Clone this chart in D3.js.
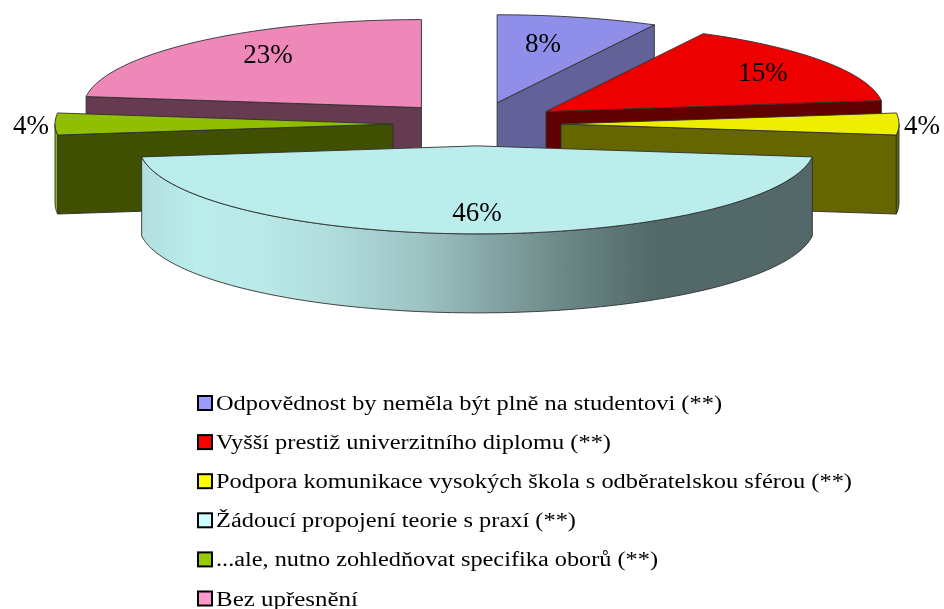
<!DOCTYPE html>
<html><head><meta charset="utf-8">
<script src="https://cdn.jsdelivr.net/npm/d3@7"></script>
<style>html,body{margin:0;padding:0;background:#fff}svg{display:block}text{font-family:"Liberation Serif",serif;fill:#000}</style>
</head><body><svg id="c" width="944" height="609"></svg>
<script>
const categories = [
  "Odpovědnost by neměla být plně na studentovi (**)",
  "Vyšší prestiž univerzitního diplomu (**)",
  "Podpora komunikace vysokých škola s odběratelskou sférou (**)",
  "Žádoucí propojení teorie s praxí (**)",
  "...ale, nutno zohledňovat specifika oborů (**)",
  "Bez upřesnění"
];
const values = [7.7, 15.3, 4, 46, 4, 23];
const valueLabels = ["8%", "15%", "4%", "46%", "4%", "23%"];
const topColors = ["#8f8fea", "#ed0000", "#eeee00", "#bbeded", "#8fbf00", "#ee88b8"];
const sideColors = ["#626298", "#600000", "#666600", "url(#rim)", "#3f4f00", "#663a50"];
const rimColors = ["#626298", "#600000", "#666600", "url(#rim)", "#8fb800", "#663a50"];
const legendColors = ["#9999ff", "#ff0000", "#ffff00", "#ccffff", "#99cc00", "#ff99cc"];
// label anchor relative to each slice's apex, in units of the pie radii
const labelFx = [0.136, 0.642, 1.068, 0, -1.071, -0.454];
const labelFy = [-0.69, -0.455, 0.0, 0.74, 0.0, -0.614];
const legendWidths = [506, 395, 636, 360, 442, 142];
const drawOrder = [0, 5, 1, 4, 2, 3];

const explode = 84 / 338, depth = 79;
const x = d3.scaleLinear().domain([-1, 1]).range([477 - 338, 477 + 338]);
const y = d3.scaleLinear().domain([-1, 1]).range([124 - 88, 124 + 88]);
const svg = d3.select("#c");
const defs = svg.append("defs");
const f = defs.append("filter").attr("id", "soft").attr("x", "-2%").attr("y", "-2%").attr("width", "104%").attr("height", "104%");
f.append("feGaussianBlur").attr("stdDeviation", 0.45);
const g = defs.append("linearGradient").attr("id", "rim").attr("gradientUnits", "userSpaceOnUse")
  .attr("x1", x(-0.99)).attr("x2", x(0.99)).attr("y1", 0).attr("y2", 0);
[[0, "#b2dede"], [0.08, "#bbeded"], [0.18, "#bae9e9"], [0.3, "#aed9d9"], [0.42, "#9cc2c2"], [0.5, "#8aabab"],
 [0.63, "#6b8886"], [0.76, "#536a6a"], [1, "#526667"]].forEach(([o, c]) =>
  g.append("stop").attr("offset", o).attr("stop-color", c));

const arcs = d3.pie().sort(null).value(d => d)(values);
const root = svg.append("g").attr("filter", "url(#soft)");
const px = (u, a) => x(u + Math.sin(a));
const py = (v, a) => y(v - Math.cos(a));
const line = d3.line();
const edge = "#303030";

function arcPoints(u, v, a0, a1, dy) {
  const n = Math.max(2, Math.ceil((a1 - a0) * 40));
  return d3.range(n + 1).map(i => {
    const a = a0 + (a1 - a0) * i / n;
    return [px(u, a), py(v, a) + dy];
  });
}
drawOrder.forEach(i => {
  const s = arcs[i], mid = (s.startAngle + s.endAngle) / 2;
  const u = explode * Math.sin(mid), v = -explode * Math.cos(mid);
  const apex = [x(u), y(v)];
  const gs = root.append("g");
  const face = (pts, fill) => gs.append("path").attr("d", line(pts) + "Z").attr("fill", fill)
    .attr("stroke", edge).attr("stroke-width", 0.9).attr("stroke-linejoin", "round");
  const a0 = s.startAngle, a1 = s.endAngle, pi = Math.PI;
  const cut = a => {
    const c = [px(u, a), py(v, a)];
    face([apex, c, [c[0], c[1] + depth], [apex[0], apex[1] + depth]], sideColors[i]);
  };
  // cut faces turned to the viewer
  if (a0 > pi && a0 < 2 * pi) cut(a0);
  if (a1 > 0 && a1 < pi) cut(a1);
  // outer rim where it faces the viewer
  const r0 = Math.max(a0, pi / 2), r1 = Math.min(a1, 3 * pi / 2);
  if (r1 > r0) {
    const t = arcPoints(u, v, r0, r1, 0), b = arcPoints(u, v, r0, r1, depth).reverse();
    face(t.concat(b), rimColors[i]);
  }
  face([apex].concat(arcPoints(u, v, a0, a1, 0)), topColors[i]);
  root.append("text").attr("x", x(u + labelFx[i]) ).attr("y", y(v + labelFy[i]))
    .attr("dy", "0.36em").attr("text-anchor", "middle").attr("font-size", 27).text(valueLabels[i]);
});

const legendY = d3.scalePoint().domain(d3.range(categories.length)).range([403, 598.5]);
const lg = root.append("g").selectAll("g").data(categories).join("g")
  .attr("transform", (d, i) => `translate(197,${legendY(i)})`);
lg.append("rect").attr("x", 1).attr("y", -7).attr("width", 14).attr("height", 14)
  .attr("fill", (d, i) => legendColors[i]).attr("stroke", "#000").attr("stroke-width", 2);
lg.append("text").attr("x", 19).attr("y", 7).attr("font-size", 20)
  .attr("textLength", (d, i) => legendWidths[i]).attr("lengthAdjust", "spacingAndGlyphs").text(d => d);
</script></body></html>
